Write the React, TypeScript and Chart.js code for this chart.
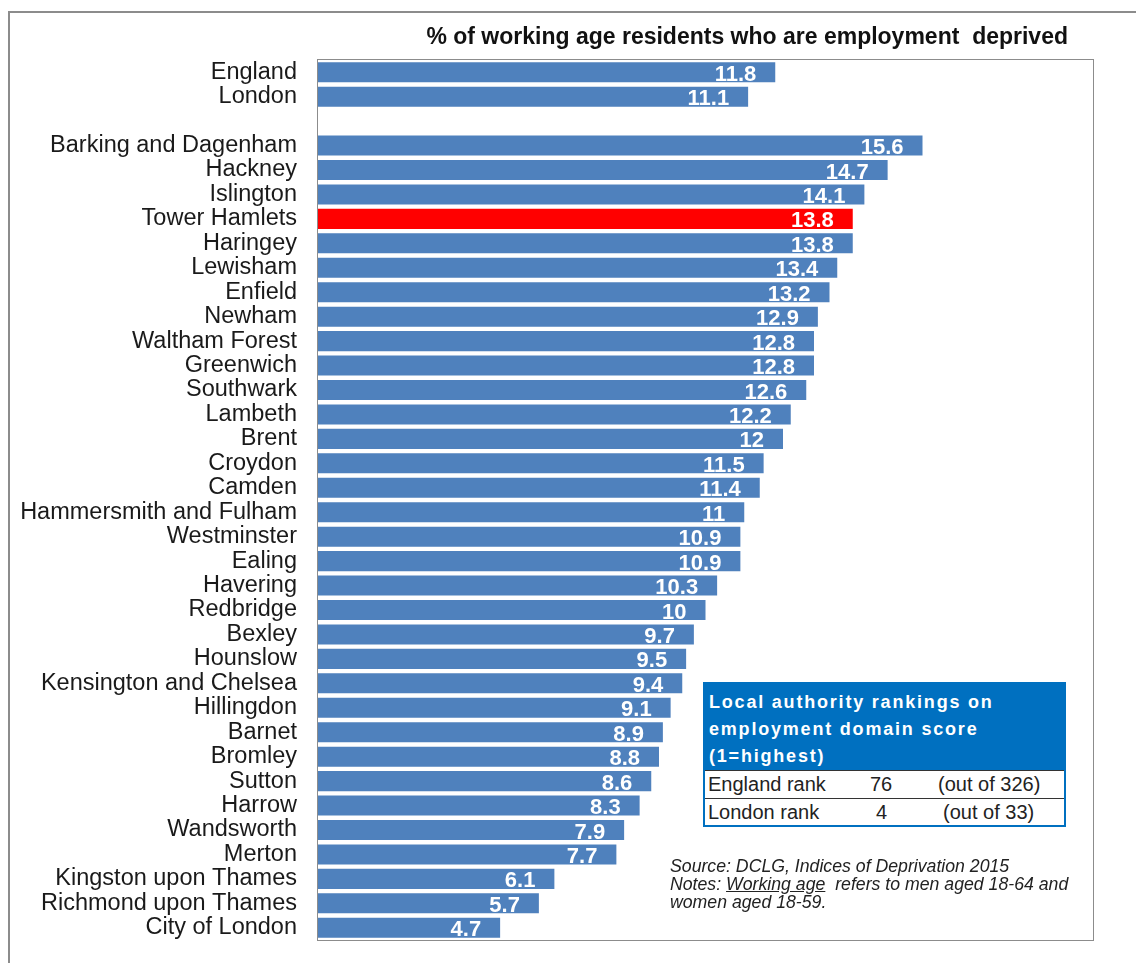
import React, { useEffect, useRef } from "react";
import { Chart, registerables } from "chart.js";

Chart.register(...registerables);

const categories: string[] = [
  "England", "London", "",
  "Barking and Dagenham", "Hackney", "Islington", "Tower Hamlets", "Haringey",
  "Lewisham", "Enfield", "Newham", "Waltham Forest", "Greenwich", "Southwark",
  "Lambeth", "Brent", "Croydon", "Camden", "Hammersmith and Fulham", "Westminster",
  "Ealing", "Havering", "Redbridge", "Bexley", "Hounslow", "Kensington and Chelsea",
  "Hillingdon", "Barnet", "Bromley", "Sutton", "Harrow", "Wandsworth", "Merton",
  "Kingston upon Thames", "Richmond upon Thames", "City of London",
];

const values: (number | null)[] = [
  11.8, 11.1, null,
  15.6, 14.7, 14.1, 13.8, 13.8, 13.4, 13.2, 12.9, 12.8, 12.8, 12.6, 12.2, 12,
  11.5, 11.4, 11, 10.9, 10.9, 10.3, 10, 9.7, 9.5, 9.4, 9.1, 8.9, 8.8, 8.6, 8.3,
  7.9, 7.7, 6.1, 5.7, 4.7,
];

const highlight = "Tower Hamlets";
const xMax = 20;

const chartTitle = "% of working age residents who are employment  deprived";

const rankTitle = ["Local authority rankings on", "employment domain score", "(1=highest)"];
const rankRows: [string, string, string][] = [
  ["England rank", "76", "(out of 326)"],
  ["London rank", "4", "(out of 33)"],
];

const FONT = "'Liberation Sans', Arial, sans-serif";

export default function App() {
  const ref = useRef<HTMLCanvasElement | null>(null);

  useEffect(() => {
    if (!ref.current) return;
    const frame = {
      id: "frame",
      afterDatasetsDraw(chart: any) {
        const { ctx, chartArea } = chart;
        ctx.save();
        // data labels
        const meta = chart.getDatasetMeta(0);
        ctx.font = `bold 22px ${FONT}`;
        ctx.fillStyle = "#ffffff";
        ctx.textAlign = "right";
        ctx.textBaseline = "alphabetic";
        meta.data.forEach((bar: any, i: number) => {
          const v = values[i];
          if (v === null || v === undefined) return;
          ctx.fillText(String(v), bar.x - 19, bar.y + 8.5);
        });
        // plot border
        ctx.strokeStyle = "#8c8c8c";
        ctx.lineWidth = 1;
        ctx.strokeRect(
          Math.round(chartArea.left) - 0.5,
          Math.round(chartArea.top) - 0.5,
          Math.round(chartArea.right - chartArea.left) + 1,
          Math.round(chartArea.bottom - chartArea.top) + 1
        );
        // title
        ctx.font = `bold 23px ${FONT}`;
        ctx.fillStyle = "#111111";
        ctx.textAlign = "right";
        ctx.fillText(chartTitle, 1068, 44);
        ctx.restore();
      },
    };

    const chart = new Chart(ref.current, {
      type: "bar",
      data: {
        labels: categories,
        datasets: [
          {
            data: values as any,
            backgroundColor: categories.map((c) => (c === highlight ? "#FF0000" : "#4F81BD")),
            borderWidth: 0,
            barPercentage: 0.82,
            categoryPercentage: 1,
          },
        ],
      },
      options: {
        indexAxis: "y",
        responsive: false,
        animation: false,
        devicePixelRatio: 1,
        layout: { padding: { left: 0, right: 43, top: 60, bottom: 23 } },
        plugins: { legend: { display: false }, tooltip: { enabled: false }, title: { display: false } },
        scales: {
          x: { display: false, min: 0, max: xMax },
          y: {
            grid: { display: false, drawTicks: false },
            border: { display: false },
            ticks: {
              font: { family: FONT, size: 23.5 },
              color: "#1a1a1a",
              padding: 21,
              autoSkip: false,
            },
            afterFit(scale: any) {
              scale.width = 318;
              scale.paddingTop = 0;
              scale.paddingBottom = 0;
            },
          },
        },
      },
      plugins: [frame],
    });
    return () => chart.destroy();
  }, []);

  return (
    <div style={{ position: "fixed", left: 0, top: 0, width: 1136, height: 963, overflow: "hidden", background: "#fff" }}>
      <div
        style={{
          position: "absolute", left: 8, top: 11, width: 1200, height: 1100,
          border: "2px solid #8c8c8c", boxSizing: "border-box",
        }}
      />
      <canvas ref={ref} width={1136} height={963} style={{ position: "absolute", left: 0, top: 0 }} />
      <div
        style={{
          position: "absolute", left: 703, top: 682, width: 363, height: 145,
          border: "2px solid #0070C0", boxSizing: "border-box", background: "#0070C0",
          fontFamily: FONT,
        }}
      >
        <div style={{ color: "#fff", fontWeight: "bold", fontSize: 18, letterSpacing: 1.8, lineHeight: "27px", padding: "5px 0 0 4px", height: 86, boxSizing: "border-box" }}>
          {rankTitle.map((t, i) => (
            <div key={i}>{t}</div>
          ))}
        </div>
        {rankRows.map((r, i) => (
          <div
            key={i}
            style={{
              position: "relative", background: "#fff", height: i === 0 ? 28 : 27,
              borderTop: "1px solid #333", boxSizing: "border-box", fontSize: 20, color: "#222",
              lineHeight: "26px",
            }}
          >
            <span style={{ position: "absolute", left: 3 }}>{r[0]}</span>
            <span style={{ position: "absolute", left: i === 0 ? 165 : 171 }}>{r[1]}</span>
            <span style={{ position: "absolute", left: i === 0 ? 233 : 238 }}>{r[2]}</span>
          </div>
        ))}
      </div>
      <div
        style={{
          position: "absolute", left: 670, top: 857, width: 420, fontFamily: FONT,
          fontStyle: "italic", fontSize: 17.7, lineHeight: "18px", color: "#222",
        }}
      >
        <div>Source: DCLG, Indices of Deprivation 2015</div>
        <div>
          Notes: <span style={{ textDecoration: "underline" }}>Working age</span>{"\u00a0\u00a0"}refers to men aged 18-64 and
        </div>
        <div>women aged 18-59.</div>
      </div>
    </div>
  );
}
